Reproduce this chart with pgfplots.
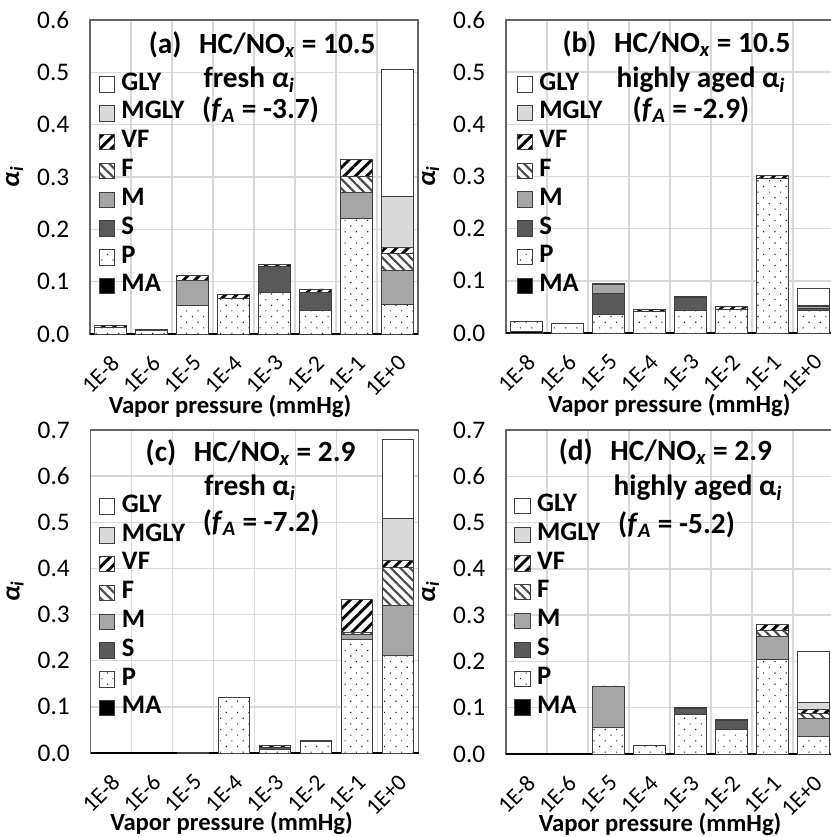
\documentclass[border=0pt]{standalone}
\usepackage{fontspec}
\setmainfont{Carlito}
\usepackage{pgfplots}
\pgfplotsset{compat=1.18}
\usepackage{pgfplotstable}
\usetikzlibrary{patterns.meta}

\definecolor{cS}{HTML}{595959}
\definecolor{cM}{HTML}{A6A6A6}
\definecolor{cMGLY}{HTML}{D9D9D9}
\definecolor{cgrid}{HTML}{D9D9D9}

% stacked from bottom: MA P S M F VF MGLY GLY
\pgfplotstableread{
x MA P S M F VF MGLY GLY
0 0 0.013 0 0 0 0.003 0 0
1 0 0.006 0 0 0 0.002 0 0
2 0 0.054 0 0.048 0 0.009 0 0
3 0 0.067 0 0 0 0.008 0 0
4 0 0.0795 0.0495 0 0 0.003 0 0
5 0 0.045 0.035 0 0 0.006 0 0
6 0 0.220 0 0.051 0.030 0.033 0 0
7 0 0.057 0 0.0645 0.033 0.0105 0.098 0.243
}\tabA
\pgfplotstableread{
x MA P S M F VF MGLY GLY
0 0.002 0.0195 0 0 0 0 0 0
1 0 0.019 0 0 0 0 0 0
2 0 0.035 0.0415 0.017 0 0.0015 0 0
3 0 0.0415 0 0 0 0.0035 0 0
4 0 0.0434 0.0246 0 0 0.002 0 0
5 0 0.046 0 0 0 0.004 0 0
6 0 0.2967 0 0 0 0.005 0 0
7 0 0.044 0.003 0.003 0 0.0035 0 0.0325
}\tabB
\pgfplotstableread{
x MA P S M F VF MGLY GLY
0 0 0 0 0 0 0 0 0
1 0 0 0 0 0 0 0 0
2 0 0 0.002 0 0 0 0 0
3 0 0.121 0 0 0 0 0 0
4 0 0.007 0.006 0 0 0.003 0 0
5 0 0.024 0 0 0 0.003 0 0
6 0 0.245 0 0.011 0.005 0.072 0 0
7 0 0.211 0 0.108 0.083 0.016 0.091 0.171
}\tabC
\pgfplotstableread{
x MA P S M F VF MGLY GLY
0 0 0 0 0 0 0 0 0
1 0 0 0 0 0 0 0 0
2 0 0.058 0 0.088 0 0.001 0 0
3 0 0.018 0 0 0 0 0 0
4 0 0.085 0.0135 0 0 0.0025 0 0
5 0 0.0525 0.0195 0 0 0.002 0 0
6 0 0.205 0 0.050 0.012 0.013 0 0
7 0 0.038 0 0.039 0.010 0.0087 0.0158 0.110
}\tabD

\tikzset{ttl/.style={font=\fontsize{22}{25}\selectfont\bfseries}}

\pgfplotsset{
  sq legend/.style={legend image code/.code={\draw[##1] (0pt,-6pt) rectangle (11.5pt,5.5pt);}},
  bar base/.style={draw=black!75, line width=0.7pt},
  sMA/.style={bar base, fill=black},
  sP/.style={bar base, fill=white, postaction={pattern={Dots[distance=6pt,radius=0.6pt,angle=45]}, pattern color=black!85}},
  sS/.style={bar base, fill=cS},
  sM/.style={bar base, fill=cM},
  sF/.style={bar base, fill=white, postaction={pattern={Lines[angle=-45,distance=5pt,line width=1.6pt]}, pattern color=black!70}},
  sVF/.style={bar base, fill=white, postaction={pattern={Lines[angle=45,distance=6pt,line width=2.2pt]}, pattern color=black}},
  sMGLY/.style={bar base, fill=cMGLY},
  sGLY/.style={bar base, fill=white},
  panel/.style={
    scale only axis, width=246pt,
    ybar stacked, bar width=23.6pt, sq legend,
    xmin=-0.5, xmax=7.5, ymin=0, ytick distance=0.1,
    xtick={0,...,7},
    xticklabels={1E-8,1E-6,1E-5,1E-4,1E-3,1E-2,1E-1,1E+0},
    minor xtick={-0.5,0.5,...,7.5},
    xminorgrids, ymajorgrids,
    major grid style={cgrid, line width=1.1pt},
    minor grid style={cgrid, line width=1.1pt},
    major tick length=0pt, minor tick length=0pt,
    axis line style={black!60, line width=0.8pt},
    yticklabel style={font=\fontsize{19}{22}\selectfont},
    /pgf/number format/assume math mode=true,
    yticklabel style={/pgf/number format/fixed, /pgf/number format/fixed zerofill,
      /pgf/number format/precision=1, xshift=-12pt},
    xticklabel style={font=\fontsize{17.5}{20}\selectfont, xshift=6pt, yshift=-16.5pt, rotate=45, anchor=east},
    xlabel={Vapor pressure (mmHg)},
    xlabel style={font=\fontsize{18.5}{21}\selectfont\bfseries, anchor=center},
    ylabel={\textbf{\textit{α}\textsubscript{\textit{i}}}},
    ylabel style={font=\fontsize{20}{23}\selectfont\bfseries, at={(axis description cs:-0.23,0.5)}, anchor=center},
    reverse legend, legend cell align=left,
    legend style={draw=none, fill=none, anchor=north west,
      font=\fontsize{20}{22}\selectfont\bfseries,
      row sep=4.6pt, column sep=5pt,
      nodes={inner sep=0pt, text height=13pt, text depth=4pt}},
  },
}

\newcommand{\stackbars}[1]{%
  \addplot[sMA] table[x=x,y=MA]{#1};
  \addplot[sP] table[x=x,y=P]{#1};
  \addplot[sS] table[x=x,y=S]{#1};
  \addplot[sM] table[x=x,y=M]{#1};
  \addplot[sF] table[x=x,y=F]{#1};
  \addplot[sVF] table[x=x,y=VF]{#1};
  \addplot[sMGLY] table[x=x,y=MGLY]{#1};
  \addplot[sGLY] table[x=x,y=GLY]{#1};
  \legend{MA,P,S,M,F,VF,MGLY,GLY}
  \draw[black, line width=1.2pt] (rel axis cs:0,0) -- (rel axis cs:1,0);
}

\begin{document}
\begin{tikzpicture}
\path[use as bounding box] (0,0) rectangle (622.5pt,-627.75pt);

% (a)
\begin{axis}[panel, at={(67.5pt,-250.5pt)}, anchor=south west,
  height=235.5pt, ymax=0.6,
  xlabel style={at={(axis description cs:0.427,0)}, yshift=-54pt},
  legend style={at={(axis description cs:0.013,0.841)}}]
\stackbars{\tabA}
\node[ttl] at (axis description cs:0.525,0.92) {(a)\hspace{0.6em}HC/NO\textsubscript{\textit{x}} = 10.5};
\node[ttl] at (axis description cs:0.485,0.809) {fresh \textit{α}\textsubscript{\textit{i}}};
\node[ttl] at (axis description cs:0.52,0.713) {(\textit{f}\textsubscript{\textit{A}} = -3.7)};
\end{axis}

% (b)
\begin{axis}[panel, at={(379.5pt,-249.75pt)}, anchor=south west,
  height=234.75pt, ymax=0.6,
  xlabel style={at={(axis description cs:0.498,0)}, yshift=-54pt},
  legend style={at={(axis description cs:0.019,0.841)}}]
\stackbars{\tabB}
\node[ttl] at (axis description cs:0.52,0.923) {(b)\hspace{0.6em}HC/NO\textsubscript{\textit{x}} = 10.5};
\node[ttl] at (axis description cs:0.594,0.808) {highly aged α\textsubscript{\textit{i}}};
\node[ttl] at (axis description cs:0.564,0.712) {(\textit{f}\textsubscript{\textit{A}} = -2.9)};
\end{axis}

% (c)
\begin{axis}[panel, at={(67.9pt,-564.75pt)}, anchor=south west,
  height=242.25pt, ymax=0.7,
  xlabel style={at={(axis description cs:0.43,0)}, yshift=-53pt},
  legend style={at={(axis description cs:0.013,0.808)}}]
\stackbars{\tabC}
\node[ttl] at (axis description cs:0.488,0.929) {(c)\hspace{0.6em}HC/NO\textsubscript{\textit{x}} = 2.9};
\node[ttl] at (axis description cs:0.486,0.82) {fresh α\textsubscript{\textit{i}}};
\node[ttl] at (axis description cs:0.52,0.712) {(\textit{f}\textsubscript{\textit{A}} = -7.2)};
\end{axis}

% (d)
\begin{axis}[panel, at={(379.5pt,-565.5pt)}, anchor=south west,
  height=243pt, ymax=0.7,
  xlabel style={at={(axis description cs:0.47,0)}, yshift=-53pt},
  legend style={at={(axis description cs:0.012,0.811)}}]
\stackbars{\tabD}
\node[ttl] at (axis description cs:0.486,0.932) {(d)\hspace{0.6em}HC/NO\textsubscript{\textit{x}} = 2.9};
\node[ttl] at (axis description cs:0.585,0.821) {highly aged α\textsubscript{\textit{i}}};
\node[ttl] at (axis description cs:0.52,0.707) {(\textit{f}\textsubscript{\textit{A}} = -5.2)};
\end{axis}
\end{tikzpicture}
\end{document}
